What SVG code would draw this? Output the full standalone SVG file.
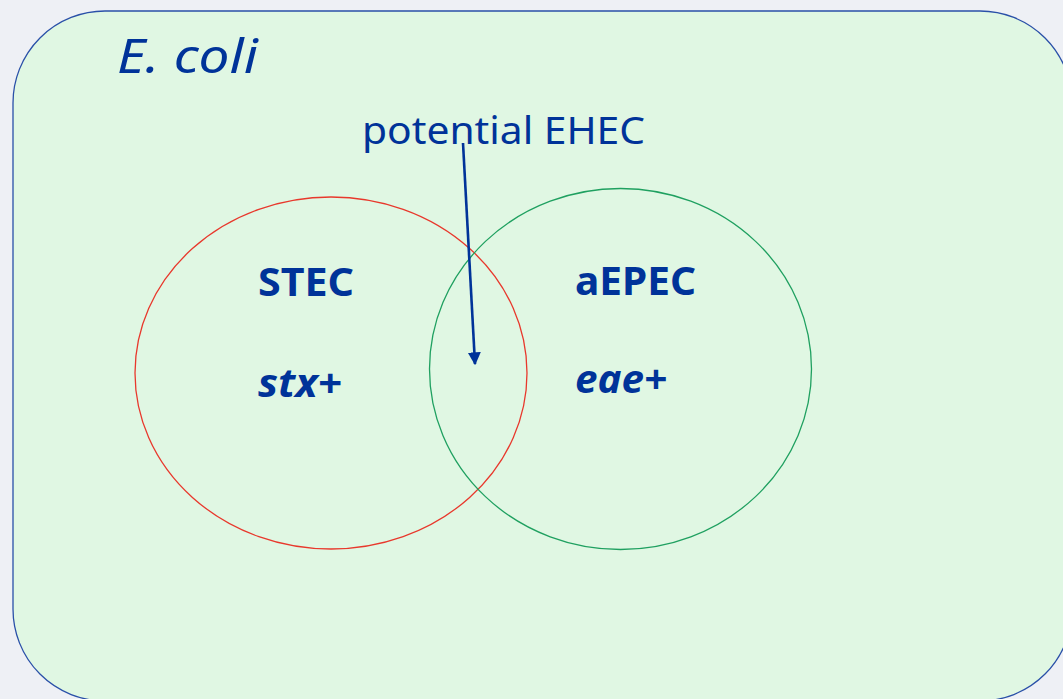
<svg xmlns="http://www.w3.org/2000/svg" width="1063" height="699" viewBox="0 0 1063 699">
  <style>
    .lbl { font-family: "Noto Sans", "DejaVu Sans", sans-serif; fill: #003399; }
    .bold { font-weight: bold; }
    .ital { font-style: italic; }
    .set { fill: none; stroke-width: 1.3; }
  </style>
  <defs>
    <marker id="arrowHead" viewBox="0 0 10 10" refX="9" refY="5" markerWidth="5" markerHeight="5.5" orient="auto" markerUnits="strokeWidth">
      <path d="M0,0 L10,5 L0,10 z" fill="#003399"/>
    </marker>
  </defs>
  <rect width="1063" height="699" fill="#eef0f5"/>

  <g id="ecoli">
    <rect x="13" y="11" width="1059" height="690" rx="92" ry="92" fill="#e0f7e3" stroke="#2a50a8" stroke-width="1.3"/>
    <text class="lbl ital" x="117" y="73" font-size="48" textLength="141" lengthAdjust="spacingAndGlyphs">E. coli</text>
  </g>

  <g id="stec">
    <ellipse class="set" cx="331" cy="373" rx="196" ry="176" stroke="#e8382c"/>
    <text class="lbl bold" x="258" y="296" font-size="40" textLength="96" lengthAdjust="spacingAndGlyphs">STEC</text>
    <text class="lbl bold ital" x="258" y="397" font-size="40" textLength="84" lengthAdjust="spacingAndGlyphs">stx+</text>
  </g>

  <g id="aepec">
    <ellipse class="set" cx="620.5" cy="369" rx="191" ry="180.5" stroke="#1fa060"/>
    <text class="lbl bold" x="575" y="295" font-size="40" textLength="121" lengthAdjust="spacingAndGlyphs">aEPEC</text>
    <text class="lbl bold ital" x="575" y="393" font-size="40" textLength="92" lengthAdjust="spacingAndGlyphs">eae+</text>
  </g>

  <g id="ehec">
    <text class="lbl" x="362" y="144" font-size="38" textLength="283" lengthAdjust="spacingAndGlyphs">potential EHEC</text>
  </g>

  <g id="connectors">
    <line x1="463" y1="143" x2="475" y2="364" stroke="#003399" stroke-width="2.6" marker-end="url(#arrowHead)"/>
  </g>
</svg>
